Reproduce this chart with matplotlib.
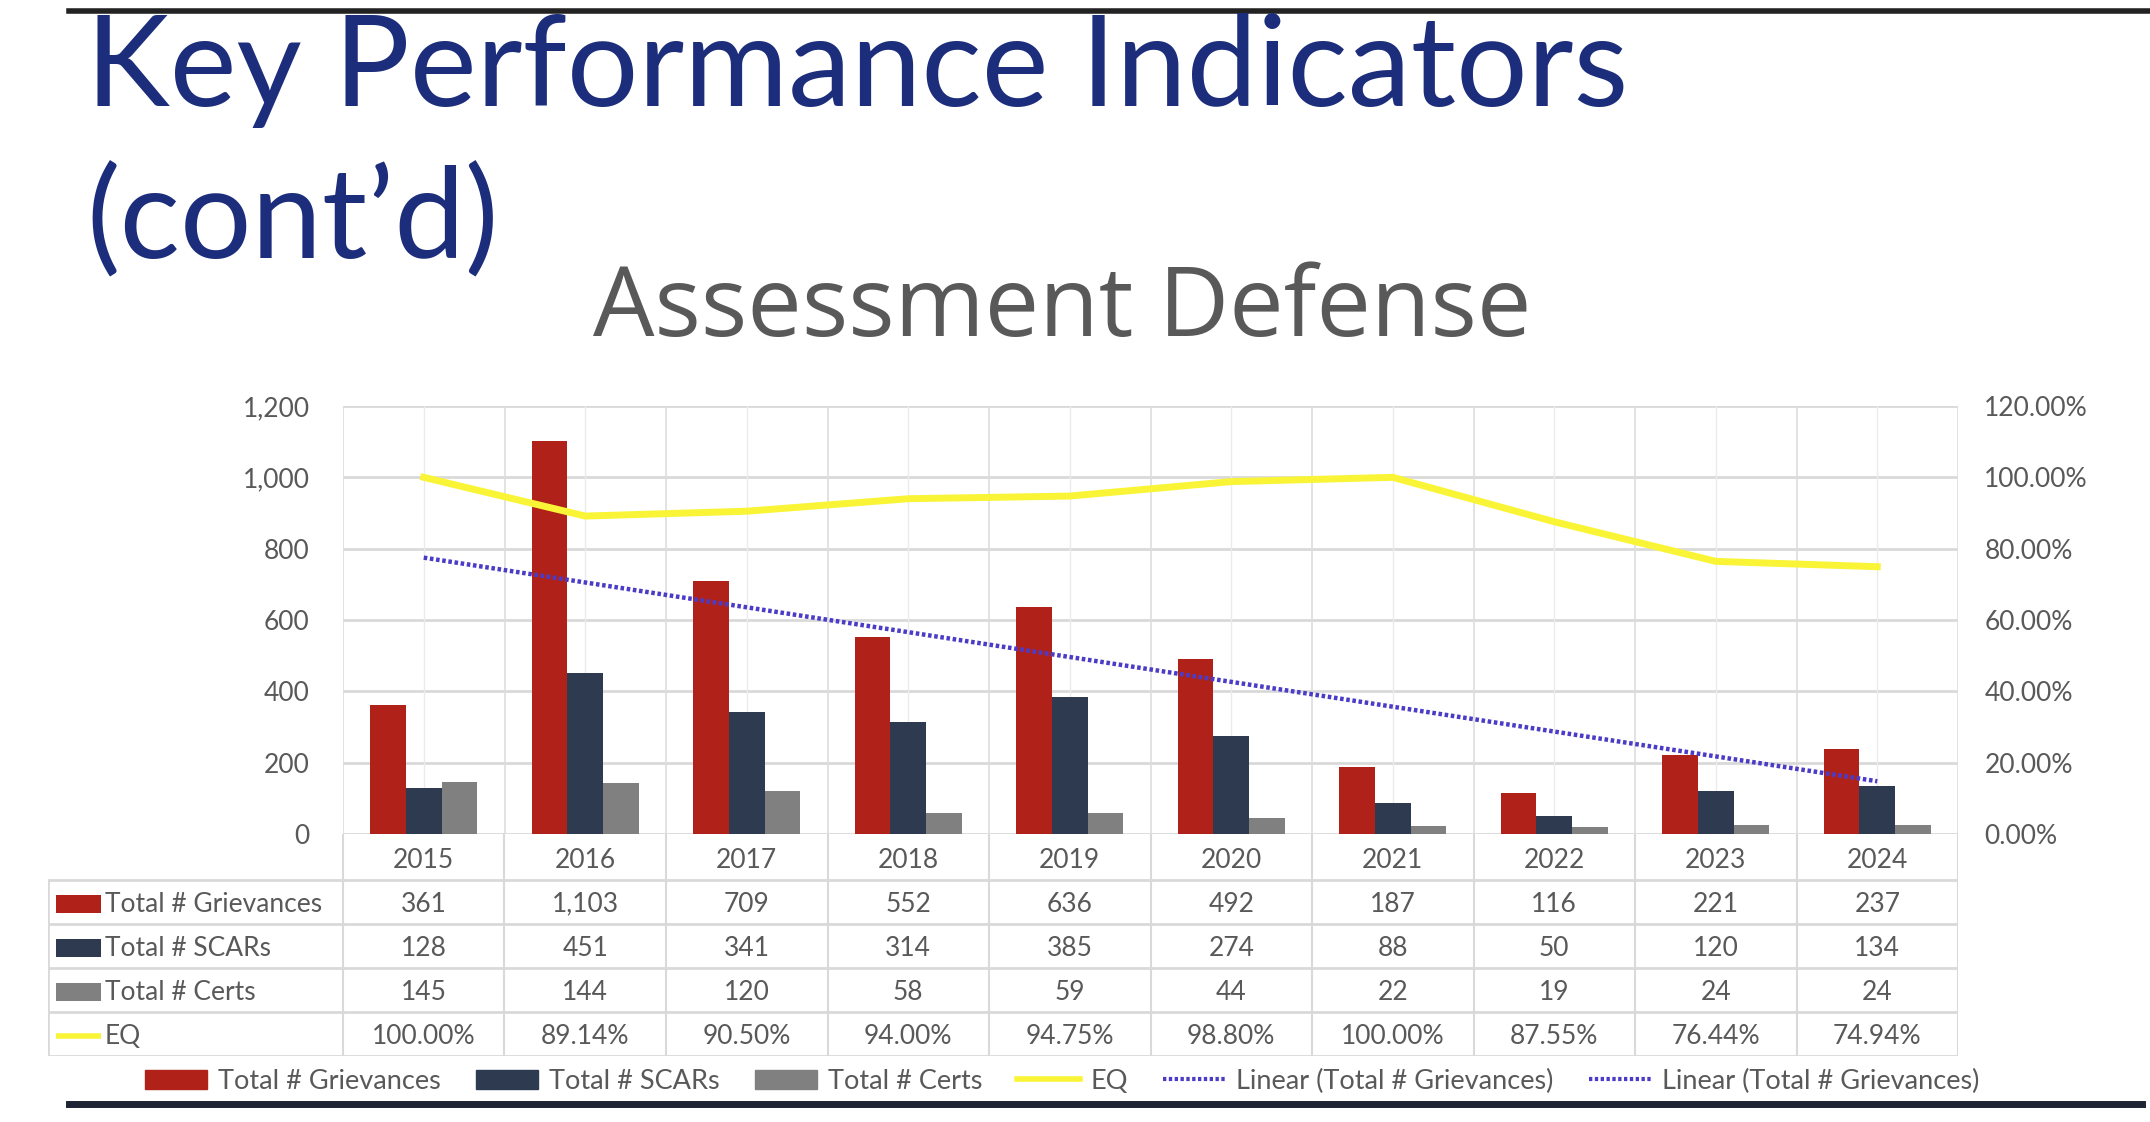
import numpy as np
import matplotlib
matplotlib.use("Agg")
import matplotlib.pyplot as plt
from matplotlib.lines import Line2D
from matplotlib.patches import Patch, Rectangle
from matplotlib import font_manager

# Data
years = ['2015', '2016', '2017', '2018', '2019', '2020', '2021', '2022', '2023', '2024']
grievances = [361, 1103, 709, 552, 636, 492, 187, 116, 221, 237]
scars = [128, 451, 341, 314, 385, 274, 88, 50, 120, 134]
certs = [145, 144, 120, 58, 59, 44, 22, 19, 24, 24]
eq = [100.00, 89.14, 90.50, 94.00, 94.75, 98.80, 100.00, 87.55, 76.44, 74.94]

series_names = ['Total # Grievances', 'Total # SCARs', 'Total # Certs']
series_colors = ['#B0211A', '#2D3A50', '#808080']
eq_color = '#F9F536'
trend_color = '#4B3CC8'
text_gray = '#595959'
grid_gray = '#D9D9D9'

installed = {f.name for f in font_manager.fontManager.ttflist}
chart_font = ['Liberation Sans Narrow', 'Lato', 'DejaVu Sans'] if 'Liberation Sans Narrow' in installed else ['Lato', 'DejaVu Sans']
title_font = ['Lato', 'DejaVu Sans']
sub_font = ['Open Sans', 'DejaVu Sans']
plt.rcParams['font.family'] = chart_font

W, H = 2150, 1122
fig = plt.figure(figsize=(W / 100, H / 100), dpi=100)


def px_axes(left, top, right, bottom):
    return fig.add_axes([left / W, 1 - bottom / H, (right - left) / W, (bottom - top) / H])


# slide decoration
fig.add_artist(Line2D([69 / W, 1.0], [1 - 11 / H, 1 - 11 / H], color='#222222', lw=4))
fig.add_artist(Line2D([69 / W, 2142 / W], [1 - 1104 / H, 1 - 1104 / H], color='#1E2433', lw=5))
fig.text(86 / W, 1 - 106 / H, 'Key Performance Indicators', family=title_font,
         fontsize=91, color='#1C2D7C', va='baseline', ha='left')
fig.text(86 / W, 1 - 258 / H, '(cont\u2019d)', family=title_font,
         fontsize=91, color='#1C2D7C', va='baseline', ha='left')
fig.text(1062 / W, 1 - 336 / H, 'Assessment Defense', family=sub_font,
         fontsize=70, color='#595959', va='baseline', ha='center')

# main plot
ax = px_axes(343, 406, 1958, 834)
x = np.arange(len(years))
bw = 0.22
for i, (vals, name, col) in enumerate(zip([grievances, scars, certs], series_names, series_colors)):
    ax.bar(x + (i - 1) * bw, vals, width=bw, color=col, label=name, zorder=3)

ax.set_xlim(-0.5, len(years) - 0.5)
ax.set_ylim(0, 1200)
ax.set_yticks(np.arange(0, 1201, 200))
ax.set_yticklabels([f'{v:,}' for v in range(0, 1201, 200)])
ax.set_xticks([])
ax.tick_params(axis='y', length=0, pad=24, labelsize=19, labelcolor=text_gray)
for s in ax.spines.values():
    s.set_visible(False)
for v in range(0, 1201, 200):
    ax.axhline(v, color=grid_gray, lw=2, zorder=1)
for xv in np.arange(-0.5, len(years), 1.0):
    ax.axvline(xv, color='#DDDDDD', lw=1.2, zorder=1)
for xv in x:
    ax.axvline(xv, color='#EBEBEB', lw=1.0, zorder=1)

# linear trend of grievances
coef = np.polyfit(x, grievances, 1)
trend = np.polyval(coef, x)
ax.plot(x, trend, color=trend_color, lw=3.2, ls=(0, (0.8, 0.6)), zorder=5)

ax2 = ax.twinx()
ax2.plot(x, eq, color=eq_color, lw=5, zorder=4, solid_joinstyle='round')
ax2.set_ylim(0, 120)
ax2.set_yticks(np.arange(0, 121, 20))
ax2.set_yticklabels([f'{v:.2f}%' for v in range(0, 121, 20)])
ax2.tick_params(axis='y', length=0, pad=19, labelsize=19, labelcolor=text_gray)
for s in ax2.spines.values():
    s.set_visible(False)
ax2.set_xlim(-0.5, len(years) - 0.5)

# data table under the chart
tab = px_axes(48, 834, 1958, 1056)
x0 = -0.5 - (343 - 48) / ((1958 - 343) / len(years))
tab.set_xlim(x0, len(years) - 0.5)
tab.set_ylim(1056, 834)
tab.axis('off')

row_edges = [880, 924, 968, 1012, 1056]
for y in row_edges:
    tab.plot([x0, len(years) - 0.5], [y, y], color=grid_gray, lw=2)
tab.plot([x0, x0], [880, 1056], color=grid_gray, lw=2)
for xv in np.arange(-0.5, len(years), 1.0):
    tab.plot([xv, xv], [834, 1056], color=grid_gray, lw=1.5)

for xi, yr in zip(x, years):
    tab.text(xi, 860, yr, ha='center', va='center', fontsize=19, color=text_gray)

rows = [
    ('Total # Grievances', [f'{v:,}' for v in grievances]),
    ('Total # SCARs', [f'{v:,}' for v in scars]),
    ('Total # Certs', [f'{v:,}' for v in certs]),
    ('EQ', [f'{v:.2f}%' for v in eq]),
]
cat_px = (1958 - 343) / len(years)
key_w = 45 / cat_px
for r, (label, cells) in enumerate(rows):
    yc = (row_edges[r] + row_edges[r + 1]) / 2 if r + 1 < len(row_edges) else 1034
    yc += 2
    kx = x0 + 8 / cat_px
    if r < 3:
        tab.add_patch(Rectangle((kx, yc - 9), key_w, 18, color=series_colors[r], lw=0))
    else:
        tab.plot([kx, kx + key_w], [yc, yc], color=eq_color, lw=4, solid_capstyle='butt')
    tab.text(kx + key_w + 4 / cat_px, yc, label, ha='left', va='center', fontsize=19, color=text_gray)
    for xi, c in zip(x, cells):
        tab.text(xi, yc, c, ha='center', va='center', fontsize=19, color=text_gray)

# legend
handles = [Patch(color=c) for c in series_colors]
handles += [Line2D([], [], color=eq_color, lw=4),
            Line2D([], [], color=trend_color, lw=3, ls=(0, (0.8, 0.6))),
            Line2D([], [], color=trend_color, lw=3, ls=(0, (0.8, 0.6)))]
labels = series_names + ['EQ', 'Linear (Total # Grievances)', 'Linear (Total # Grievances)']
fig.legend(handles, labels, loc='center', bbox_to_anchor=(1062 / W, 1 - 1081 / H), ncol=6,
           frameon=False, fontsize=19.5, labelcolor=text_gray, handlelength=2.3, handleheight=0.7,
           handletextpad=0.4, columnspacing=1.3)

fig.savefig('out.png', dpi=100, facecolor='white')
